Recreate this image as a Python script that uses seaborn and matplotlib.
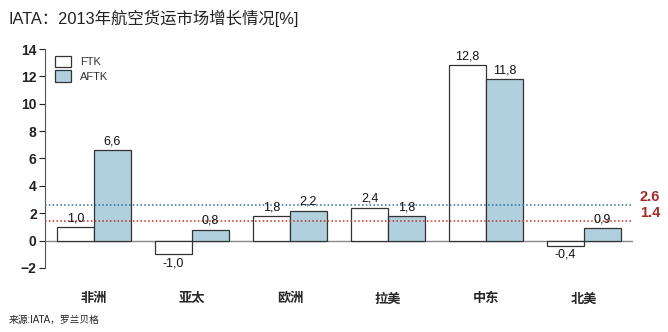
import matplotlib
matplotlib.use("Agg")
import matplotlib.pyplot as plt
import seaborn as sns
import pandas as pd

regions = ["非洲", "亚太", "欧洲", "拉美", "中东", "北美"]
ftk = [1.0, -1.0, 1.8, 2.4, 12.8, -0.4]
aftk = [6.6, 0.8, 2.2, 1.8, 11.8, 0.9]
series = ["FTK", "AFTK"]
ref_lines = [2.6, 1.4]
title = "IATA：2013年航空货运市场增长情况[%]"
source = "来源:IATA，罗兰贝格"

sns.set_theme(style="white")
plt.rcParams['font.family'] = ['Liberation Sans', 'Noto Sans CJK SC', 'DejaVu Sans']

df = pd.DataFrame({
    "region": regions * 2,
    "series": [series[0]] * len(regions) + [series[1]] * len(regions),
    "value": ftk + aftk,
})

fig = plt.figure(figsize=(6.68, 3.32), dpi=100)
ax = fig.add_axes([0.0674, 0.1928, 0.880, 0.6596])

sns.barplot(data=df, x="region", y="value", hue="series", order=regions,
            hue_order=series, palette={"FTK": "white", "AFTK": "#AFD0DC"},
            saturation=1, edgecolor="#333333", linewidth=0.9, width=0.75,
            ax=ax, legend=True)

ax.set_xlim(-0.5, 5.5)
ax.set_ylim(-2, 14)
ax.set_yticks(range(-2, 15, 2))
ax.tick_params(axis="y", labelsize=10, length=4, direction="out", left=True, width=0.8, colors="#222222", pad=2)
for lbl in ax.get_yticklabels():
    lbl.set_fontweight("bold")
ax.tick_params(axis="x", length=0, pad=18, labelsize=9.5)
for lbl in ax.get_xticklabels():
    lbl.set_fontweight("bold")
ax.set_xlabel("")
ax.set_ylabel("")
for s in ["top", "right", "bottom"]:
    ax.spines[s].set_visible(False)
ax.spines["left"].set_color("#555555")
ax.spines["left"].set_linewidth(0.8)

ax.axhline(0, color="#888888", linewidth=1.0, zorder=0.5)
ax.axhline(ref_lines[0], color="#2F6F9F", linestyle=(0, (1, 1.5)), linewidth=1.1, zorder=3)
ax.axhline(ref_lines[1], color="#C0302A", linestyle=(0, (1, 1.5)), linewidth=1.1, zorder=3)

for val in ref_lines:
    ax.text(5.57, val + 0.6, f"{val:.1f}", color="#A52A2A", fontsize=10.5,
            fontweight="bold", va="center", ha="left", clip_on=False)

for cont in ax.containers:
    labels = [f"{b.get_height():.1f}".replace(".", ",") for b in cont]
    ax.bar_label(cont, labels=labels, padding=2, fontsize=9, color="#111111")

leg = ax.legend(loc="upper left", frameon=False, fontsize=8, handlelength=1.5,
                handleheight=1.2, borderaxespad=0.2, labelspacing=0.3,
                bbox_to_anchor=(0.005, 1.0))
for t in leg.get_texts():
    t.set_color("#333333")

fig.text(0.013, 0.945, title, fontsize=11.8, color="#222222", ha="left", va="center")
fig.text(0.013, 0.035, source, fontsize=7, color="#222222", ha="left", va="center")

fig.savefig("out.png", dpi=100, facecolor="white")
